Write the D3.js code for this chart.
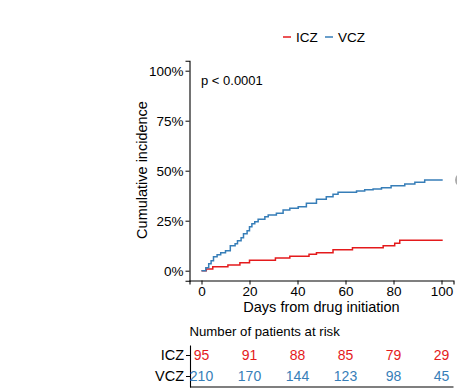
<!DOCTYPE html>
<html><head><meta charset="utf-8">
<script src="https://cdn.jsdelivr.net/npm/d3@7"></script>
<style>
body{margin:0;background:#fff;}
svg{display:block;font-family:"Liberation Sans",Arial,Helvetica,sans-serif;}
</style></head>
<body>
<svg id="chart" width="457" height="392"></svg>
<script>
const seriesNames = ["ICZ", "VCZ"];
const seriesColors = ["#e41a1c", "#377eb8"];
// step curves: [day, cumulative incidence]
const iczDays = [0, 2, 4.7, 11, 16, 20, 30.8, 36.8, 44.8, 47.9, 54.8, 62.9, 75.7, 80.5, 82.6, 100.5];
const iczVals = [0, 0.008, 0.02, 0.028, 0.04, 0.052, 0.063, 0.072, 0.082, 0.09, 0.105, 0.115, 0.125, 0.137, 0.152, 0.152];
const vczDays = [0, 1.8, 3, 4, 5, 6.5, 8, 10, 12, 14, 15, 16.5, 17.5, 19, 20, 21, 22.2, 23.6, 26.4, 27.8, 31.2, 34, 36.8, 40.3, 43.7, 47.9, 52, 54.8, 56.9, 64.6, 68, 71.5, 75, 79, 84.7, 88.9, 93, 100.5];
const vczVals = [0, 0.015, 0.035, 0.05, 0.07, 0.08, 0.09, 0.10, 0.125, 0.135, 0.15, 0.165, 0.185, 0.20, 0.22, 0.235, 0.245, 0.257, 0.27, 0.278, 0.287, 0.303, 0.312, 0.32, 0.337, 0.357, 0.37, 0.382, 0.392, 0.398, 0.405, 0.408, 0.415, 0.425, 0.433, 0.442, 0.453, 0.453];
const xTicks = [0, 20, 40, 60, 80, 100];
const yTicks = [0, 0.25, 0.5, 0.75, 1];
const riskICZ = [95, 91, 88, 85, 79, 29];
const riskVCZ = [210, 170, 144, 123, 98, 45];
const pText = "p < 0.0001";

const svg = d3.select("#chart");
const x = d3.scaleLinear().domain([-5, 105]).range([189.5, 453.5]);
const y = d3.scaleLinear().domain([-0.05, 1.05]).range([280.7, 60.7]);

// axes
const yAxis = d3.axisLeft(y).tickValues(yTicks).tickFormat(d => Math.round(d*100) + "%").tickSizeOuter(0).tickSize(4).tickPadding(2);
const gy = svg.append("g").attr("transform", "translate(189.5,0)").call(yAxis);
const xAxis = d3.axisBottom(x).tickValues(xTicks).tickSizeOuter(0).tickSize(4).tickPadding(2);
const gx = svg.append("g").attr("transform", "translate(0,280.5)").call(xAxis);
[gx, gy].forEach(g => {
  g.select(".domain").attr("stroke", "#000").attr("stroke-width", 1.1);
  g.selectAll(".tick line").attr("stroke", "#000");
  g.selectAll(".tick text").attr("fill", "#000").attr("font-size", 13.5).attr("font-family", "Liberation Sans, Arial, sans-serif");
});

// curves
const line = d3.line().x(d => x(d[0])).y(d => y(d[1])).curve(d3.curveStepAfter);
const series = [d3.zip(iczDays, iczVals), d3.zip(vczDays, vczVals)];
series.forEach((s, i) => {
  svg.append("path").datum(s).attr("d", line).attr("fill", "none")
    .attr("stroke", seriesColors[i]).attr("stroke-width", 1.5);
});

// p value
svg.append("text").attr("x", 201).attr("y", 85).attr("font-size", 13).text(pText);

// axis titles
svg.append("text").attr("transform", "translate(147,170) rotate(-90)").attr("text-anchor", "middle")
  .attr("font-size", 14.5).text("Cumulative incidence");
svg.append("text").attr("x", 321.5).attr("y", 311.5).attr("text-anchor", "middle")
  .attr("font-size", 14.5).text("Days from drug initiation");

// legend
const leg = svg.append("g");
const legX = [283, 325];
seriesNames.forEach((n, i) => {
  leg.append("line").attr("x1", legX[i]).attr("x2", legX[i] + 8).attr("y1", 37).attr("y2", 37)
    .attr("stroke", seriesColors[i]).attr("stroke-width", 1.5);
  leg.append("text").attr("x", legX[i] + 13).attr("y", 42).attr("font-size", 13.5).text(n);
});

// grey cut-off mark at right
svg.append("circle").attr("cx", 462).attr("cy", 180).attr("r", 6).attr("fill", "none").attr("stroke", "#aaa").attr("stroke-width", 2);

// risk table
svg.append("text").attr("x", 189.5).attr("y", 336).attr("font-size", 13.2).text("Number of patients at risk");
const ry = d3.scaleBand().domain(seriesNames).range([345, 387]);
const ryAxis = d3.axisLeft(ry).tickSize(4).tickPadding(2).tickSizeOuter(0);
const gr = svg.append("g").attr("transform", "translate(190,0)").call(ryAxis);
gr.select(".domain").attr("stroke", "#000").attr("stroke-width", 1.1);
gr.selectAll(".tick line").attr("stroke", "#000");
gr.selectAll(".tick text").attr("fill", "#000").attr("font-size", 14.5).attr("font-family", "Liberation Sans, Arial, sans-serif");
svg.append("line").attr("x1", 190).attr("x2", 453.5).attr("y1", 387).attr("y2", 387).attr("stroke", "#000").attr("stroke-width", 1.1);
[riskICZ, riskVCZ].forEach((arr, i) => {
  svg.append("g").selectAll("text").data(arr).join("text")
    .attr("x", (d, j) => x(xTicks[j])).attr("y", ry(seriesNames[i]) + ry.bandwidth()/2)
    .attr("dy", "0.35em").attr("text-anchor", "middle").attr("font-size", 14)
    .attr("fill", seriesColors[i]).text(d => d);
});
</script>
</body></html>
